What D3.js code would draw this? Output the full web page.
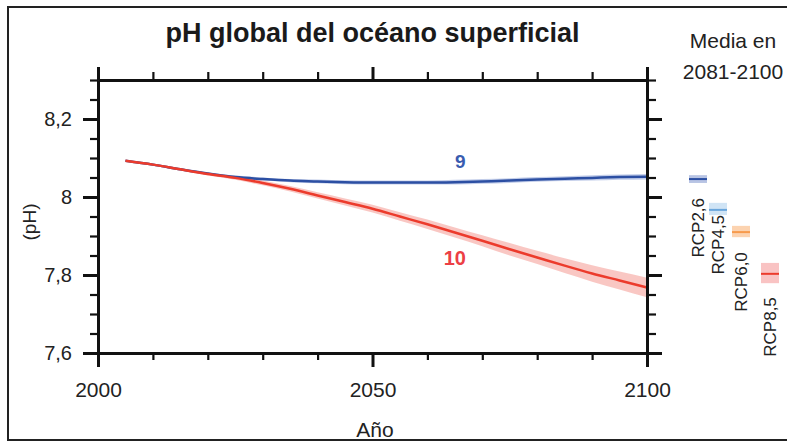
<!DOCTYPE html>
<html lang="es">
<head>
    <meta charset="UTF-8">
    <title>pH global del océano superficial</title>
    <script src="https://d3js.org/d3.v7.min.js"></script>
    <style>
        body { margin: 0; background: white; }
        svg { display: block; font-family: "Liberation Sans", Arial, sans-serif; }
        .axis path, .axis line { stroke: #111; }
        .axis text { fill: #222; }
    </style>
</head>
<body>
    <svg id="svg"></svg>
    <script>
        // data
        const years = [2005, 2010, 2015, 2020, 2025, 2030, 2035, 2040, 2045, 2050,
                       2055, 2060, 2065, 2070, 2075, 2080, 2085, 2090, 2095, 2100];
        const rcp26 = [8.093, 8.083, 8.071, 8.060, 8.051, 8.046, 8.042, 8.040, 8.038, 8.037,
                       8.037, 8.037, 8.038, 8.040, 8.042, 8.045, 8.047, 8.049, 8.051, 8.052];
        const rcp26Spread = [0.002, 0.003, 0.003, 0.003, 0.004, 0.004, 0.004, 0.005, 0.005, 0.005,
                             0.005, 0.005, 0.006, 0.006, 0.006, 0.006, 0.006, 0.007, 0.007, 0.007];
        const rcp85 = [8.093, 8.083, 8.071, 8.059, 8.049, 8.036, 8.021, 8.004, 7.987, 7.970,
                       7.950, 7.930, 7.909, 7.888, 7.866, 7.845, 7.824, 7.804, 7.786, 7.768];
        const rcp85Spread = [0.002, 0.003, 0.003, 0.004, 0.005, 0.006, 0.007, 0.008, 0.009, 0.010,
                             0.011, 0.012, 0.013, 0.014, 0.016, 0.017, 0.019, 0.021, 0.023, 0.025];

        // mean 2081-2100
        const scenarios = ["RCP2,6", "RCP4,5", "RCP6,0", "RCP8,5"];
        const meanVals = [8.046, 7.967, 7.910, 7.803];
        const meanLow = [8.036, 7.954, 7.897, 7.779];
        const meanHigh = [8.056, 7.985, 7.926, 7.831];

        const yMajorTicks = [7.6, 7.8, 8.0, 8.2];
        const yMinorTicks = [7.65, 7.7, 7.75, 7.85, 7.9, 7.95, 8.05, 8.1, 8.15, 8.25, 8.3];
        const xMajorTicks = [2000, 2050, 2100];
        const xMinorTicks = [2010, 2020, 2030, 2040, 2060, 2070, 2080, 2090];

        const width = 787, height = 441;
        const padL = 98, padR = 647, padT = 80, padB = 353;

        const svg = d3.select('#svg')
            .attr('width', width)
            .attr('height', height);

        // outer frame
        svg.append('rect')
            .attr('x', 8).attr('y', 7)
            .attr('width', 800).attr('height', 433)
            .attr('fill', 'none')
            .attr('stroke', '#222')
            .attr('stroke-width', 2);

        const xScale = d3.scaleLinear().domain([2000, 2100]).range([padL, padR]);
        const yScale = d3.scaleLinear().domain([7.6, 8.3]).range([padB, padT]);

        const es = d3.formatLocale({decimal: ",", thousands: ".", grouping: [3], currency: ["", "€"]});
        const fmt = es.format("~g");

        const colors = {
            blue: '#2c4fa3', blueBand: '#b3c1e4',
            red: '#ec3b2c', redBand: '#f7b9b4'
        };

        // bands
        const band = d3.area()
            .x((d) => xScale(d[0]))
            .y0((d) => yScale(d[1] - d[2]))
            .y1((d) => yScale(d[1] + d[2]))
            .curve(d3.curveMonotoneX);
        const line = d3.line()
            .x((d) => xScale(d[0]))
            .y((d) => yScale(d[1]))
            .curve(d3.curveMonotoneX);

        const blueData = years.map((y, i) => [y, rcp26[i], rcp26Spread[i]]);
        const redData = years.map((y, i) => [y, rcp85[i], rcp85Spread[i]]);

        svg.append('path').datum(blueData).attr('d', band)
            .attr('fill', colors.blueBand).attr('opacity', 0.8);
        svg.append('path').datum(redData).attr('d', band)
            .attr('fill', colors.redBand).attr('opacity', 0.8);
        svg.append('path').datum(blueData).attr('d', line)
            .attr('fill', 'none').attr('stroke', colors.blue).attr('stroke-width', 2.5);
        svg.append('path').datum(redData).attr('d', line)
            .attr('fill', 'none').attr('stroke', colors.red).attr('stroke-width', 2.5);

        // axes
        function addAxis(axis, tx, ty, values, size, labels) {
            const g = svg.append('g')
                .attr('class', 'axis')
                .attr('transform', 'translate(' + tx + ',' + ty + ')')
                .call(axis.tickValues(values).tickSize(size).tickSizeOuter(0));
            g.selectAll('line').attr('stroke-width', size > 10 ? 3 : 2.2);
            g.select('.domain').attr('stroke-width', 3);
            if (!labels) g.selectAll('text').remove();
            return g;
        }
        addAxis(d3.axisLeft(yScale), padL, 0, yMinorTicks, 8, false);
        addAxis(d3.axisRight(yScale), padR, 0, yMinorTicks, 9, false);
        addAxis(d3.axisTop(xScale), 0, padT, xMinorTicks, 8, false);
        addAxis(d3.axisBottom(xScale), 0, padB, xMinorTicks, 7, false);
        addAxis(d3.axisTop(xScale), 0, padT, xMajorTicks, 13, false);
        addAxis(d3.axisRight(yScale), padR, 0, yMajorTicks, 15, false);

        const yAx = addAxis(d3.axisLeft(yScale).tickFormat(fmt).tickPadding(11), padL, 0, yMajorTicks, 15, true);
        yAx.selectAll('text').style('font-size', '20px');
        const xAx = addAxis(d3.axisBottom(xScale).tickFormat(d3.format('d')).tickPadding(15), 0, padB, xMajorTicks, 14, true);
        xAx.selectAll('text').style('font-size', '21px');

        // titles
        svg.append('text')
            .attr('x', (padL + padR) / 2).attr('y', 42)
            .attr('text-anchor', 'middle')
            .style('font-size', '27px').style('font-weight', 'bold')
            .attr('fill', '#1a1a1a')
            .text('pH global del océano superficial');
        svg.append('text')
            .attr('x', 375).attr('y', 437)
            .attr('text-anchor', 'middle')
            .style('font-size', '21px').attr('fill', '#222')
            .text('Año');
        svg.append('text')
            .attr('transform', 'translate(36,222) rotate(-90)')
            .attr('text-anchor', 'middle')
            .style('font-size', '19px').attr('fill', '#222')
            .text('(pH)');
        svg.append('text')
            .attr('x', 733).attr('y', 48)
            .attr('text-anchor', 'middle')
            .style('font-size', '21px').attr('fill', '#222')
            .text('Media en');
        svg.append('text')
            .attr('x', 733).attr('y', 79)
            .attr('text-anchor', 'middle')
            .style('font-size', '21px').attr('fill', '#222')
            .text('2081-2100');

        // line labels
        svg.append('text')
            .attr('x', xScale(2066)).attr('y', 168)
            .attr('text-anchor', 'middle')
            .style('font-size', '19px').style('font-weight', 'bold')
            .attr('fill', '#3a5cb0')
            .text('9');
        svg.append('text')
            .attr('x', xScale(2065)).attr('y', 265)
            .attr('text-anchor', 'middle')
            .style('font-size', '20px').style('font-weight', 'bold')
            .attr('fill', '#ec3f45')
            .text('10');

        // mean bars on the right
        const legendX = [698, 718, 741, 770];
        const legendLabelGap = [15, 0, 15, 14];
        const legendLine = ['#2c4fa3', '#6aa6dc', '#f79a4c', '#ec3b2c'];
        const legendBox = ['#b8c4e4', '#d0e4f5', '#fcd3b0', '#f9c3c3'];
        const barW = 18;

        const leg = svg.append('g');
        leg.selectAll('rect')
            .data(scenarios)
            .enter()
            .append('rect')
            .attr('x', (d, i) => legendX[i] - barW / 2)
            .attr('y', (d, i) => yScale(meanHigh[i]))
            .attr('width', barW)
            .attr('height', (d, i) => yScale(meanLow[i]) - yScale(meanHigh[i]))
            .attr('fill', (d, i) => legendBox[i]);
        leg.selectAll('line')
            .data(scenarios)
            .enter()
            .append('line')
            .attr('x1', (d, i) => legendX[i] - barW / 2)
            .attr('x2', (d, i) => legendX[i] + barW / 2)
            .attr('y1', (d, i) => yScale(meanVals[i]))
            .attr('y2', (d, i) => yScale(meanVals[i]))
            .attr('stroke', (d, i) => legendLine[i])
            .attr('stroke-width', 2);
        leg.selectAll('text')
            .data(scenarios)
            .enter()
            .append('text')
            .attr('transform', (d, i) => 'translate(' + (legendX[i] + 6) + ',' + (yScale(meanLow[i]) + legendLabelGap[i]) + ') rotate(-90)')
            .attr('text-anchor', 'end')
            .style('font-size', '17px')
            .attr('fill', '#222')
            .text((d) => d);
    </script>
</body>
</html>
